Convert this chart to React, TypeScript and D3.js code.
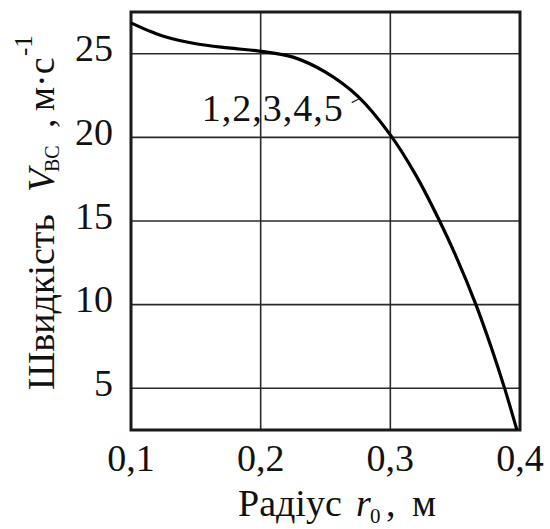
import React from "react";
import * as d3 from "d3";

// Radial velocity profile (curves 1–5 coincide)
const radius: number[] = [0.1, 0.113, 0.125, 0.15, 0.175, 0.2, 0.225, 0.25, 0.275, 0.3, 0.32, 0.338, 0.35, 0.366, 0.378, 0.3885, 0.3976];
const velocity: number[] = [26.85, 26.4, 26.05, 25.6, 25.35, 25.15, 24.8, 23.9, 22.45, 20.15, 17.7, 15.0, 13.0, 10.0, 7.4, 4.9, 2.5];

const xTicks: number[] = [0.1, 0.2, 0.3, 0.4];
const xTickLabels: string[] = ["0,1", "0,2", "0,3", "0,4"];
const yTicks: number[] = [5, 10, 15, 20, 25];
const yTickLabels: string[] = ["5", "10", "15", "20", "25"];

const curveLabel = "1,2,3,4,5";

const W = 550;
const H = 529;
const FONT = "'Liberation Serif', 'Times New Roman', serif";

export default function App() {
  const x = d3.scaleLinear().domain([0.1, 0.4]).range([131, 520]);
  const y = d3.scaleLinear().domain([2.5, 27.5]).range([430, 12]);

  const pts: [number, number][] = radius.map((r, i) => [r, velocity[i]]);
  const line = d3
    .line<[number, number]>()
    .x((d) => x(d[0]))
    .y((d) => y(d[1]))
    .curve(d3.curveCatmullRom.alpha(0.5));

  const [x0, x1] = x.range();
  const [y0, y1] = y.range();

  return (
    <svg
      width={W}
      height={H}
      style={{ position: "absolute", left: 0, top: 0, background: "#fff" }}
      fontFamily={FONT}
    >
      <rect x={0} y={0} width={W} height={H} fill="#fff" />
      {/* grid */}
      {xTicks.slice(1, -1).map((t) => (
        <line key={"gx" + t} x1={x(t)} x2={x(t)} y1={y1} y2={y0} stroke="#2a2a2a" strokeWidth={1.6} />
      ))}
      {yTicks.map((t) => (
        <line key={"gy" + t} x1={x0} x2={x1} y1={y(t)} y2={y(t)} stroke="#2a2a2a" strokeWidth={1.6} />
      ))}
      {/* frame */}
      <rect x={x0} y={y1} width={x1 - x0} height={y0 - y1} fill="none" stroke="#1a1a1a" strokeWidth={3} />

      {/* curve */}
      <path d={line(pts) ?? ""} fill="none" stroke="#000" strokeWidth={3.2} strokeLinejoin="round" />

      {/* curve label with leader */}
      <text x={x(0.1545)} y={y(21.0)} fontSize={38} letterSpacing={1} fill="#111">
        {curveLabel}
      </text>
      <line x1={x(0.2702)} y1={y(22.08)} x2={x(0.2757)} y2={y(22.3)} stroke="#222" strokeWidth={1.2} />

      {/* x tick labels */}
      {xTicks.map((t, i) => (
        <text key={"xt" + t} x={x(t)} y={471} fontSize={38} textAnchor="middle" fill="#111">
          {xTickLabels[i]}
        </text>
      ))}
      {/* y tick labels */}
      {yTicks.map((t, i) => (
        <text key={"yt" + t} x={113} y={y(t) + 7.5} fontSize={38} textAnchor="end" fill="#111">
          {yTickLabels[i]}
        </text>
      ))}

      {/* x axis title */}
      <text x={238} y={516} fontSize={38} fill="#111">
        <tspan>Радіус</tspan>
        <tspan x={356} fontStyle="italic">r</tspan>
        <tspan x={370} y={523} fontSize={21}>0</tspan>
        <tspan x={386} y={516}>,</tspan>
        <tspan x={412}>м</tspan>
      </text>

      {/* y axis title */}
      <g transform="translate(54,0) rotate(-90)">
        <text fontSize={38} fill="#111">
          <tspan x={-390} y={0}>Швидкість</tspan>
          <tspan x={-192} y={0} fontStyle="italic">V</tspan>
          <tspan x={-172} y={5} fontSize={20}>BC</tspan>
          <tspan x={-128} y={0}>,</tspan>
          <tspan x={-111} y={0}>м·с</tspan>
          <tspan x={-56} y={-22} fontSize={25}>-1</tspan>
        </text>
      </g>
    </svg>
  );
}
